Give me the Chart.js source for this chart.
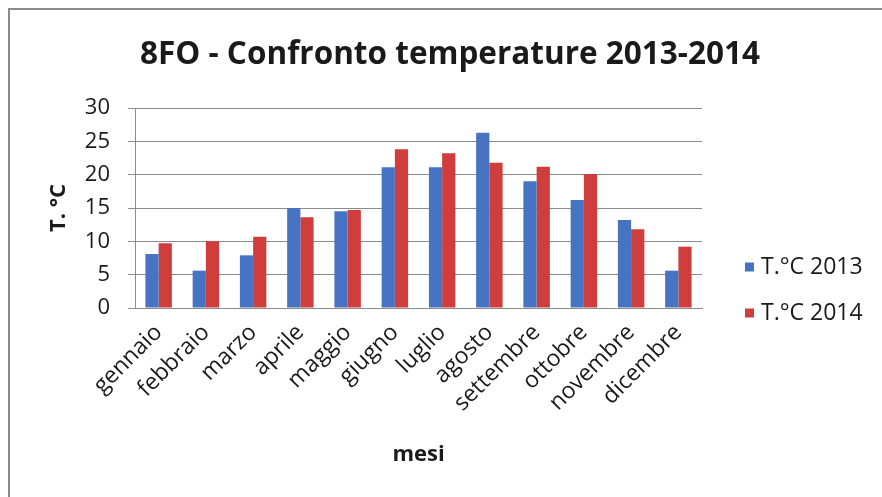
<!DOCTYPE html>
<html>
<head>
<meta charset="utf-8">
<script src="https://cdn.jsdelivr.net/npm/chart.js@4"></script>
<style>
  html, body { margin: 0; padding: 0; background: #fff; }
  #wrap { width: 882px; height: 497px; position: relative; }
</style>
</head>
<body>
<div id="wrap"><canvas id="chart" width="882" height="497"></canvas></div>
<script>
// Monthly mean temperatures (°C), station 8FO
const mesi = ['gennaio', 'febbraio', 'marzo', 'aprile', 'maggio', 'giugno',
              'luglio', 'agosto', 'settembre', 'ottobre', 'novembre', 'dicembre'];
const temp2013 = [8.1, 5.6, 7.9, 15.0, 14.5, 21.1, 21.1, 26.3, 19.0, 16.2, 13.2, 5.6];
const temp2014 = [9.7, 10.0, 10.7, 13.6, 14.7, 23.8, 23.2, 21.8, 21.2, 20.1, 11.8, 9.2];
const yTicks = [0, 5, 10, 15, 20, 25, 30];

const FONT = '"Open Sans", Lato, sans-serif';
const TEXT = '#1a1a1a';

// Outer frame around the whole chart
const framePlugin = {
  id: 'frame',
  beforeDraw(chart) {
    const ctx = chart.ctx;
    ctx.save();
    ctx.fillStyle = '#fff';
    ctx.fillRect(0, 0, chart.width, chart.height);
    ctx.strokeStyle = '#8c8c8c';
    ctx.lineWidth = 2;
    ctx.beginPath();
    ctx.moveTo(9, chart.height);
    ctx.lineTo(9, 9);
    ctx.lineTo(chart.width, 9);
    ctx.stroke();
    ctx.restore();
  }
};

// Legend drawn in the space reserved on the right of the plot area
const sideLegend = {
  id: 'sideLegend',
  afterDraw(chart) {
    const ctx = chart.ctx;
    const x = 745, ys = [267, 313], box = 9;
    ctx.save();
    ctx.font = '23px ' + FONT;
    ctx.textBaseline = 'middle';
    ctx.textAlign = 'left';
    chart.data.datasets.forEach((ds, i) => {
      ctx.fillStyle = ds.backgroundColor;
      ctx.fillRect(x, ys[i] - box / 2, box, box);
      ctx.fillStyle = TEXT;
      ctx.fillText(ds.label, x + box + 7, ys[i]);
    });
    ctx.restore();
  }
};

new Chart(document.getElementById('chart'), {
  type: 'bar',
  data: {
    labels: mesi,
    datasets: [
      { label: 'T.°C 2013', data: temp2013, backgroundColor: '#4674c3' },
      { label: 'T.°C 2014', data: temp2014, backgroundColor: '#cf3d3d' }
    ]
  },
  options: {
    responsive: false,
    animation: false,
    layout: { padding: { left: 18, right: 0, top: 0, bottom: 0 } },
    datasets: {
      bar: { categoryPercentage: 0.56, barPercentage: 1.0 }
    },
    plugins: {
      legend: { display: false },
      tooltip: { enabled: false },
      title: {
        display: true,
        text: '8FO - Confronto temperature 2013-2014',
        color: TEXT,
        font: { family: FONT, size: 31.5, weight: 'bold' },
        padding: { top: 36, bottom: 34.2 }
      }
    },
    scales: {
      x: {
        grid: { display: false },
        border: { display: true, color: '#8c8c8c' },
        ticks: {
          color: TEXT,
          font: { family: FONT, size: 23 },
          minRotation: 45, maxRotation: 45,
          autoSkip: false,
          padding: 3
        },
        title: {
          display: true, text: 'mesi', color: TEXT,
          font: { family: FONT, size: 22, weight: 'bold' },
          padding: { top: 0, bottom: 29 }
        },
        afterFit(s) { s.height = 189; }
      },
      y: {
        min: 0, max: 30,
        afterBuildTicks(s) { s.ticks = yTicks.map(v => ({ value: v })); },
        grid: { color: '#8c8c8c', tickLength: 7, drawTicks: true },
        border: { display: true, color: '#8c8c8c' },
        ticks: {
          color: TEXT,
          font: { family: FONT, size: 22 },
          padding: 18
        },
        title: {
          display: true, text: 'T. °C', color: TEXT,
          font: { family: FONT, size: 22, weight: 'bold' },
          padding: { top: 28, bottom: 0 }
        },
        afterFit(s) { s.width = 117; }
      },
      // empty axis that keeps room for the legend on the right
      legendSpace: {
        type: 'linear',
        position: 'right',
        display: true,
        grid: { display: false },
        border: { display: false },
        ticks: { display: false },
        afterFit(s) { s.width = 180; }
      }
    }
  },
  plugins: [framePlugin, sideLegend]
});
</script>
</body>
</html>
